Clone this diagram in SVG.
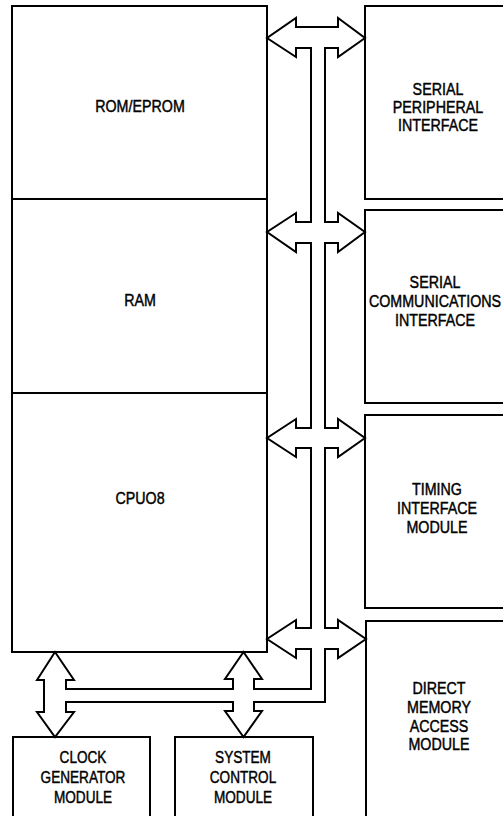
<svg xmlns="http://www.w3.org/2000/svg" width="503" height="816" viewBox="0 0 503 816">
<style>
.box{fill:#fff;stroke:#000;stroke-width:2}
.bus{fill:#fff;stroke:#000;stroke-width:2;stroke-linejoin:miter}
.t{font-family:"Liberation Sans",Arial,Helvetica,sans-serif;font-size:17px;text-anchor:middle;fill:#000;stroke:#000;stroke-width:0.45}
</style>
<rect x="0" y="0" width="503" height="816" fill="#fff"/>
<g id="rom"><rect class="box" x="12" y="6" width="255" height="193"/><text class="t" transform="matrix(0.84 0 0 1 140 112)">ROM/EPROM</text></g>
<g id="ram"><rect class="box" x="12" y="199" width="255" height="194"/><text class="t" transform="matrix(0.84 0 0 1 140 306)">RAM</text></g>
<g id="cpu"><rect class="box" x="12" y="393" width="255" height="259"/><text class="t" transform="matrix(0.84 0 0 1 140 504)">CPUO8</text></g>
<g id="spi"><rect class="box" x="365" y="6" width="145" height="193"/>
<text class="t" transform="matrix(0.84 0 0 1 438 95)">SERIAL</text>
<text class="t" transform="matrix(0.84 0 0 1 438 113)">PERIPHERAL</text>
<text class="t" transform="matrix(0.84 0 0 1 438 131)">INTERFACE</text></g>
<g id="sci"><rect class="box" x="365" y="210" width="145" height="193"/>
<text class="t" transform="matrix(0.84 0 0 1 435 288)">SERIAL</text>
<text class="t" transform="matrix(0.84 0 0 1 435 307)">COMMUNICATIONS</text>
<text class="t" transform="matrix(0.84 0 0 1 435 326)">INTERFACE</text></g>
<g id="tim"><rect class="box" x="365" y="415" width="145" height="193"/>
<text class="t" transform="matrix(0.84 0 0 1 437 495)">TIMING</text>
<text class="t" transform="matrix(0.84 0 0 1 437 514)">INTERFACE</text>
<text class="t" transform="matrix(0.84 0 0 1 437 533)">MODULE</text></g>
<g id="dma"><rect class="box" x="366" y="621" width="145" height="200"/>
<text class="t" transform="matrix(0.84 0 0 1 439 694)">DIRECT</text>
<text class="t" transform="matrix(0.84 0 0 1 439 713)">MEMORY</text>
<text class="t" transform="matrix(0.84 0 0 1 439 732)">ACCESS</text>
<text class="t" transform="matrix(0.84 0 0 1 439 750)">MODULE</text></g>
<g id="clock"><rect class="box" x="13" y="737" width="137" height="85"/>
<text class="t" transform="matrix(0.8 0 0 1 83 763)">CLOCK</text>
<text class="t" transform="matrix(0.8 0 0 1 83 783)">GENERATOR</text>
<text class="t" transform="matrix(0.8 0 0 1 83 803)">MODULE</text></g>
<g id="sys"><rect class="box" x="175" y="737" width="138" height="85"/>
<text class="t" transform="matrix(0.8 0 0 1 243 763)">SYSTEM</text>
<text class="t" transform="matrix(0.8 0 0 1 243 783)">CONTROL</text>
<text class="t" transform="matrix(0.8 0 0 1 243 803)">MODULE</text></g>
<g id="connectors">
<polygon class="bus" points="296,27 338,27 338,18 365,38 338,57 338,48 325,48 325,222 338,222 338,213 365,232 338,252 338,243 325,243 325,428 338,428 338,419 365,438 338,457 338,448 325,448 325,628 338,628 338,620 366,639 338,658 338,649 325,649 325,702 254,702 254,711 262,711 243.5,737 225,711 233,711 233,702 66,702 66,712 74,712 55,737 37,712 44,712 44,680 37,680 55,652 74,680 66,680 66,689 233,689 233,679 225,679 243.5,652 262,679 254,679 254,689 311,689 311,649 296,649 296,658 267,639 296,620 296,628 311,628 311,448 296,448 296,457 267,438 296,419 296,428 311,428 311,243 296,243 296,252 267,232 296,213 296,222 311,222 311,48 296,48 296,57 267,38 296,18"/>
</g>
</svg>
